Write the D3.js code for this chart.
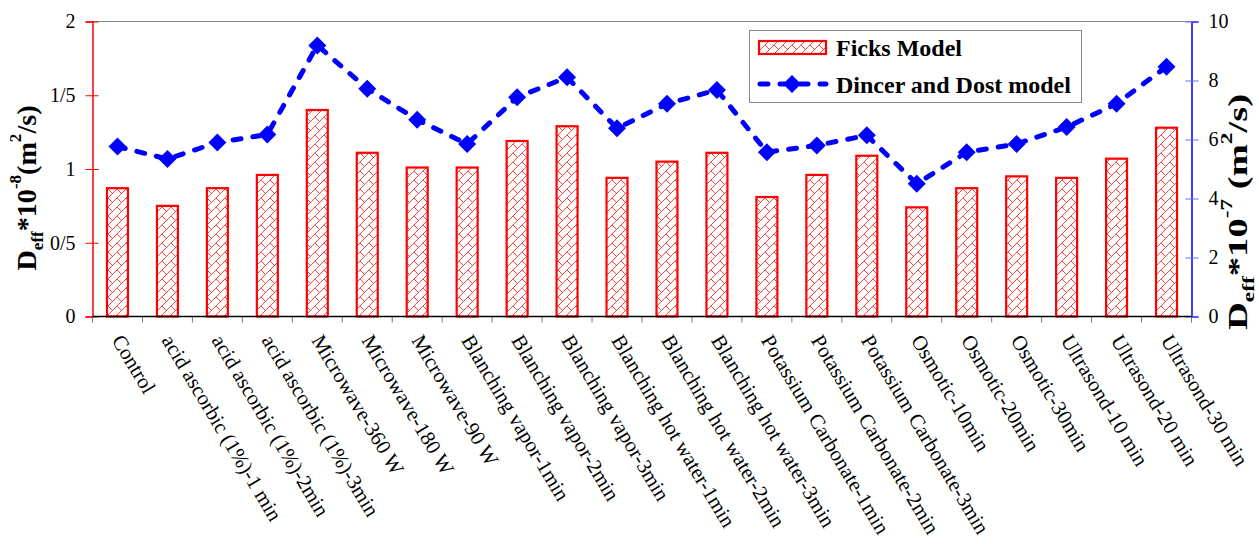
<!DOCTYPE html>
<html>
<head>
<meta charset="utf-8">
<script src="https://cdn.jsdelivr.net/npm/d3@7"></script>
<style>
  html, body { margin: 0; padding: 0; background: #fff; }
  svg { display: block; }
  text { font-family: "Liberation Serif", "Times New Roman", serif; }
</style>
</head>
<body>
<svg id="chart" width="1259" height="544"></svg>
<script>
// Treatments along the x axis
const categories = [
  "Control",
  "acid ascorbic (1%)-1 min",
  "acid ascorbic (1%)-2min",
  "acid ascorbic (1%)-3min",
  "Microwave-360 W",
  "Microwave-180 W",
  "Microwave-90 W",
  "Blanching vapor-1min",
  "Blanching vapor-2min",
  "Blanching vapor-3min",
  "Blanching hot water-1min",
  "Blanching hot water-2min",
  "Blanching hot water-3min",
  "Potassium Carbonate-1min",
  "Potassium Carbonate-2min",
  "Potassium Carbonate-3min",
  "Osmotic-10min",
  "Osmotic-20min",
  "Osmotic-30min",
  "Ultrasond-10 min",
  "Ultrasond-20 min",
  "Ultrasond-30 min"
];

// Ficks model, Deff * 10^-8 (left axis)
const ficksValues = [0.87, 0.75, 0.87, 0.96, 1.40, 1.11, 1.01, 1.01, 1.19, 1.29, 0.94,
                     1.05, 1.11, 0.81, 0.96, 1.09, 0.74, 0.87, 0.95, 0.94, 1.07, 1.28];

// Dincer and Dost model, Deff * 10^-7 (right axis)
const dincerValues = [5.76, 5.34, 5.90, 6.17, 9.19, 7.72, 6.67, 5.85, 7.43, 8.11, 6.38,
                      7.21, 7.68, 5.57, 5.80, 6.14, 4.50, 5.57, 5.85, 6.42, 7.21, 8.47];

// Tick labels (the left axis writes decimals with a slash)
const leftTicks = [0, 0.5, 1, 1.5, 2];
const leftTickLabels = ["0", "0/5", "1", "1/5", "2"];
const rightTicks = [0, 2, 4, 6, 8, 10];

const seriesNames = ["Ficks Model", "Dincer and Dost model"];

const svg = d3.select("#chart");
const margin = { left: 92.5, right: 1191.5, top: 21.5, bottom: 316.5 };

const x = d3.scaleBand()
  .domain(categories)
  .range([margin.left, margin.right])
  .paddingInner(0.58)
  .paddingOuter(0.29);

const yLeft = d3.scaleLinear().domain([0, 2]).range([margin.bottom, margin.top]);
const yRight = d3.scaleLinear().domain([0, 10]).range([margin.bottom, margin.top]);

// Hatch pattern for the bars
const defs = svg.append("defs");
const pat = defs.append("pattern")
  .attr("id", "hatch")
  .attr("patternUnits", "userSpaceOnUse")
  .attr("width", 9).attr("height", 9);
pat.append("rect").attr("width", 9).attr("height", 9).attr("fill", "#fff");
pat.append("path")
  .attr("d", "M-1,10 L10,-1 M0,0 L4.5,4.5")
  .attr("stroke", "#ff3030").attr("stroke-width", 0.9).attr("fill", "none");

// Top frame line
svg.append("line")
  .attr("x1", margin.left).attr("x2", margin.right)
  .attr("y1", margin.top).attr("y2", margin.top)
  .attr("stroke", "#888").attr("stroke-width", 1);

// Bars
svg.append("g").selectAll("rect")
  .data(ficksValues)
  .join("rect")
  .attr("x", (d, i) => x(categories[i]))
  .attr("width", x.bandwidth())
  .attr("y", d => yLeft(d))
  .attr("height", d => yLeft(0) - yLeft(d))
  .attr("fill", "url(#hatch)")
  .attr("stroke", "#ff0000")
  .attr("stroke-width", 2.2);

// Left axis (red)
const leftAxis = d3.axisLeft(yLeft)
  .tickValues(leftTicks)
  .tickFormat((d, i) => leftTickLabels[i])
  .tickSize(7)
  .tickPadding(10);
const gl = svg.append("g").attr("transform", `translate(${margin.left},0)`).call(leftAxis);
gl.attr("font-family", null);
gl.select(".domain").attr("stroke", "#ff0000").attr("stroke-width", 1.5);
gl.selectAll(".tick line").attr("stroke", "#ff0000").attr("x2", -7).attr("x1", 6);
gl.selectAll(".tick text").attr("font-size", 20).attr("fill", "#000");

// Right axis (blue)
const rightAxis = d3.axisRight(yRight)
  .tickValues(rightTicks)
  .tickSize(7)
  .tickPadding(10);
const gr = svg.append("g").attr("transform", `translate(${margin.right},0)`).call(rightAxis);
gr.attr("font-family", null);
gr.select(".domain").attr("stroke", "#0000ff").attr("stroke-width", 1.5);
gr.selectAll(".tick line").attr("stroke", "#6f6fff").attr("x1", -6).attr("x2", 7);
gr.selectAll(".tick text").attr("font-size", 20).attr("fill", "#000");

// Bottom axis: ticks at category boundaries
const boundaries = d3.range(categories.length + 1).map(i => margin.left + i * x.step());
const gb = svg.append("g");
gb.selectAll("line.tk")
  .data(boundaries)
  .join("line")
  .attr("class", "tk")
  .attr("x1", d => d).attr("x2", d => d)
  .attr("y1", margin.bottom).attr("y2", margin.bottom + 6)
  .attr("stroke", "#777").attr("stroke-width", 1);
gb.append("line")
  .attr("x1", margin.left).attr("x2", margin.right)
  .attr("y1", margin.bottom).attr("y2", margin.bottom)
  .attr("stroke", "#000").attr("stroke-width", 1.5);

// Rotated category labels
gb.selectAll("text")
  .data(categories)
  .join("text")
  .attr("transform", d => `translate(${x(d) + x.bandwidth() / 2},${margin.bottom + 20}) rotate(59)`)
  .attr("text-anchor", "start")
  .attr("dy", "0.35em")
  .attr("font-size", 21)
  .attr("fill", "#000")
  .text(d => d);

// Dincer and Dost line
const line = d3.line()
  .x((d, i) => x(categories[i]) + x.bandwidth() / 2)
  .y(d => yRight(d));
svg.append("path")
  .datum(dincerValues)
  .attr("d", line)
  .attr("fill", "none")
  .attr("stroke", "#0000ff")
  .attr("stroke-width", 5)
  .attr("stroke-linecap", "round")
  .attr("stroke-dasharray", "8,12");

const diamond = "M0,-9L9,0L0,9L-9,0Z";
svg.append("g").selectAll("path")
  .data(dincerValues)
  .join("path")
  .attr("transform", (d, i) => `translate(${x(categories[i]) + x.bandwidth() / 2},${yRight(d)})`)
  .attr("d", diamond)
  .attr("fill", "#0000ff");

// Axis titles
function axisTitle(g, parts, size, small, len) {
  const t = g.append("text")
    .attr("font-size", size)
    .attr("font-weight", "bold")
    .attr("text-anchor", "middle")
    .attr("fill", "#000");
  if (len) t.attr("textLength", len).attr("lengthAdjust", "spacingAndGlyphs");
  parts.forEach(p => {
    const ts = t.append("tspan").text(p.t);
    if (p.sub) ts.attr("dy", size * 0.25).attr("font-size", small);
    if (p.sup) ts.attr("dy", -size * 0.55).attr("font-size", small);
    if (p.back) ts.attr("dy", p.back);
  });
  return t;
}
const lt = svg.append("g").attr("transform", "translate(36,188) rotate(-90)");
axisTitle(lt, [
  { t: "D" }, { t: "eff", sub: true }, { t: "*10", back: -28 * 0.25 }, { t: "-8", sup: true },
  { t: "(m", back: 28 * 0.55 }, { t: "2", sup: true }, { t: "/s)", back: 28 * 0.55 }
], 28, 17, 165);
const rt = svg.append("g").attr("transform", "translate(1247,212) rotate(-90)");
axisTitle(rt, [
  { t: "D" }, { t: "eff", sub: true }, { t: "*10", back: -28 * 0.25 }, { t: "-7", sup: true },
  { t: " (m", back: 28 * 0.55 }, { t: "2", sup: true }, { t: "/s)", back: 28 * 0.55 }
], 28, 17, 236);

// Legend
const lg = svg.append("g");
lg.append("rect")
  .attr("x", 749.5).attr("y", 30.5).attr("width", 332).attr("height", 72)
  .attr("fill", "#fff").attr("stroke", "#888").attr("stroke-width", 1);
lg.append("rect")
  .attr("x", 759).attr("y", 41).attr("width", 67).attr("height", 13)
  .attr("fill", "url(#hatch)").attr("stroke", "#ff0000").attr("stroke-width", 2.2);
lg.append("text").attr("x", 836).attr("y", 56).attr("font-size", 24)
  .attr("font-weight", "bold").text(seriesNames[0]);
lg.append("line")
  .attr("x1", 760).attr("x2", 826).attr("y1", 84).attr("y2", 84)
  .attr("stroke", "#0000ff").attr("stroke-width", 5)
  .attr("stroke-linecap", "round").attr("stroke-dasharray", "8,12");
lg.append("path").attr("transform", "translate(792,84)").attr("d", diamond).attr("fill", "#0000ff");
lg.append("text").attr("x", 836).attr("y", 93).attr("font-size", 24)
  .attr("font-weight", "bold").text(seriesNames[1]);
</script>
</body>
</html>
